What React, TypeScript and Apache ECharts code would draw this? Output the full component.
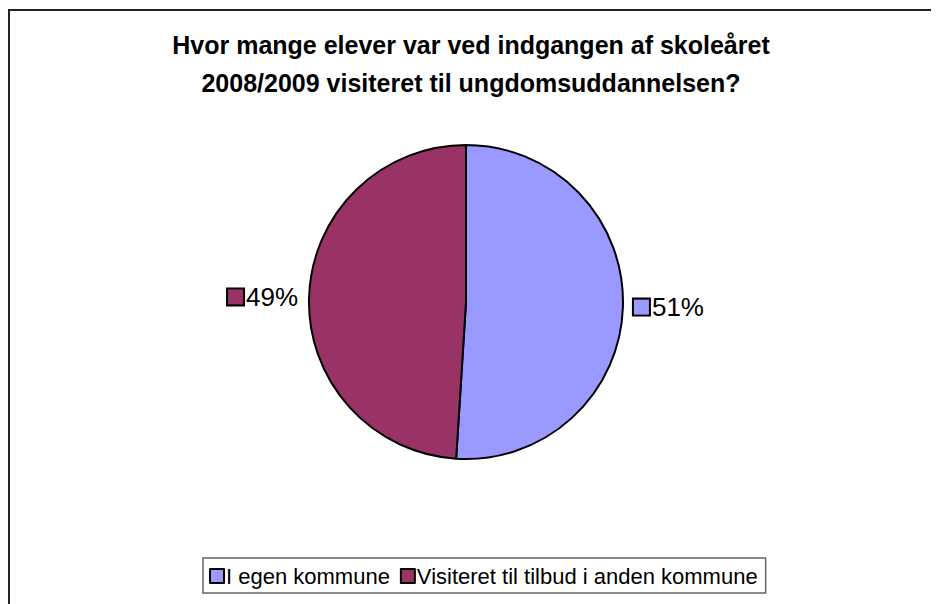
import React, { useEffect, useRef } from "react";
import * as echarts from "echarts";

const titleLines = [
  "Hvor mange elever var ved indgangen af skoleåret",
  "2008/2009 visiteret til ungdomsuddannelsen?",
];
const categories = ["I egen kommune", "Visiteret til tilbud i anden kommune"];
const values = [51, 49];
const colors = ["#9999FF", "#993366"];

export default function App() {
  const ref = useRef<HTMLDivElement>(null);
  useEffect(() => {
    if (!ref.current) return;
    const chart = echarts.init(ref.current, null, { renderer: "svg" });
    const font = "'Liberation Sans', Arial, sans-serif";
    chart.setOption({
      animation: false,
      backgroundColor: "#ffffff",
      title: {
        text: titleLines.join("\n"),
        left: 458,
        textAlign: "center",
        top: 13,
        textStyle: {
          fontFamily: font,
          fontWeight: "bold",
          fontSize: 25,
          lineHeight: 38,
          color: "#000",
        },
      },
      legend: {
        bottom: 11,
        left: 195,
        orient: "horizontal",
        icon: "rect",
        itemWidth: 14,
        itemHeight: 14,
        itemGap: 10,
        padding: [7, 8, 6, 6],
        borderColor: "#666",
        borderWidth: 1.5,
        borderRadius: 0,
        selectedMode: false,
        textStyle: {
          fontFamily: font,
          fontSize: 22,
          lineHeight: 22,
          color: "#000",
          padding: [0, 0, 0, -3],
        },
        itemStyle: { borderColor: "#000", borderWidth: 2 },
        data: categories,
      },
      graphic: [
        {
          type: "rect",
          shape: { x: 1, y: 2, width: 2000, height: 2000 },
          style: { fill: "none", stroke: "#222", lineWidth: 2 },
          silent: true,
        },
      ],
      series: [
        {
          type: "pie",
          center: [458, 294],
          radius: 157,
          startAngle: 90,
          clockwise: true,
          avoidLabelOverlap: false,
          itemStyle: { borderColor: "#000", borderWidth: 2 },
          label: {
            show: true,
            position: "outside",
            formatter: (p: any) => `{sq${p.dataIndex}|}{t|${p.value}%}`,
            rich: {
              sq0: {
                width: 15,
                height: 15,
                backgroundColor: colors[0],
                borderColor: "#000",
                borderWidth: 2,
              },
              sq1: {
                width: 15,
                height: 15,
                backgroundColor: colors[1],
                borderColor: "#000",
                borderWidth: 2,
              },
              t: {
                fontFamily: font,
                fontSize: 26,
                color: "#000",
                padding: [0, 0, 0, 3],
              },
            },
          },
          labelLine: { show: false, length: 6, length2: 0 },
          emphasis: { disabled: true },
          data: categories.map((c, i) => ({
            name: c,
            value: values[i],
            itemStyle: { color: colors[i] },
          })),
        },
      ],
    });
    return () => chart.dispose();
  }, []);
  return <div ref={ref} style={{ width: 931, height: 596 }} />;
}
